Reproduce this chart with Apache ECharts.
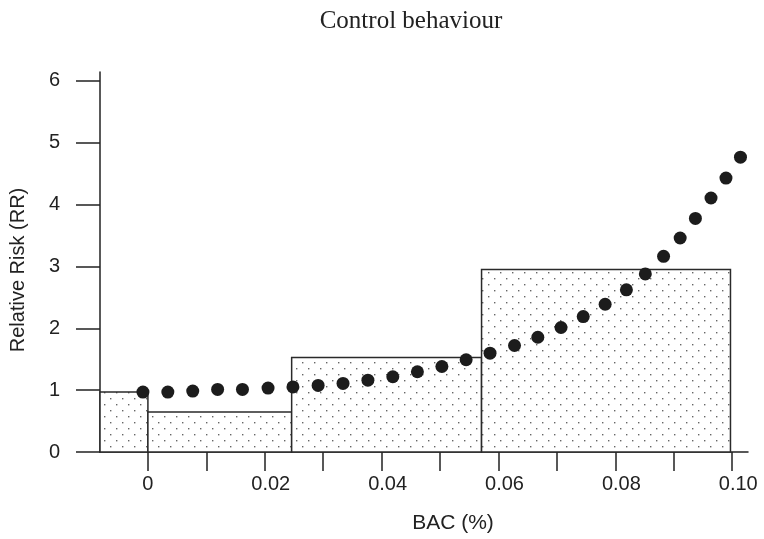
<!DOCTYPE html>
<html>
<head>
<meta charset="utf-8">
<script src="https://cdn.jsdelivr.net/npm/echarts@6/dist/echarts.min.js"></script>
<style>
  html, body { margin: 0; padding: 0; background: #fff; }
  #chart { width: 764px; height: 539px; }
</style>
</head>
<body>
<div id="chart"></div>
<script>
// step bars: [from, to, RR]
var barFrom = [-0.0082, 0, 0.0246, 0.0571];
var barTo = [0, 0.0246, 0.0571, 0.0997];
var barRR = [0.97, 0.646, 1.53, 2.95];

// dots along the curve
var dotBAC = [-0.00085, 0.00341, 0.00767, 0.01193, 0.01618, 0.02056, 0.02482, 0.02913,
    0.03339, 0.03765, 0.04191, 0.04612, 0.05031, 0.05446, 0.05855, 0.06274, 0.06673,
    0.0707, 0.0745, 0.07825, 0.08189, 0.08513, 0.08825, 0.09109, 0.0937, 0.09637,
    0.09893, 0.10141];
var dotRR = [0.969, 0.969, 0.985, 1.012, 1.012, 1.033, 1.052, 1.077, 1.109, 1.162,
    1.217, 1.298, 1.383, 1.492, 1.598, 1.722, 1.856, 2.013, 2.19, 2.389, 2.622, 2.88,
    3.164, 3.461, 3.777, 4.107, 4.429, 4.768];

var xTicks = [0, 0.01, 0.02, 0.03, 0.04, 0.05, 0.06, 0.07, 0.08, 0.09, 0.1];
var xLabels = [0, 0.02, 0.04, 0.06, 0.08, 0.1];
var yTicks = [0, 1, 2, 3, 4, 5, 6];

// 点状填充
var pat = document.createElement('canvas');
pat.width = 12;
pat.height = 12;
var ctx = pat.getContext('2d');
ctx.fillStyle = '#fff';
ctx.fillRect(0, 0, 12, 12);
ctx.fillStyle = '#666';
ctx.fillRect(2, 2, 1.4, 1.4);
ctx.fillRect(8, 8, 1.4, 1.4);

var bars = [];
for (var i = 0; i < barFrom.length; i++) {
    bars.push([barFrom[i], barTo[i], barRR[i]]);
}
var dots = [];
for (var j = 0; j < dotBAC.length; j++) {
    dots.push([dotBAC[j], dotRR[j]]);
}

var labelFont = { fontFamily: 'Liberation Sans', fontSize: 20, color: '#222' };

var myChart = echarts.init(document.getElementById('chart'));
var option = {
    animation: false,
    title: {
        text: 'Control behaviour',
        left: 406,
        textAlign: 'center',
        top: 4,
        textStyle: { fontFamily: 'Liberation Serif', fontWeight: 'normal', fontSize: 25, color: '#222' }
    },
    grid: { left: 97, right: 16, top: 72, bottom: 86 },
    xAxis: {
        type: 'value',
        min: -0.0082,
        max: 0.1027,
        name: 'BAC (%)',
        nameLocation: 'middle',
        nameGap: 61,
        nameTextStyle: { fontFamily: 'Liberation Sans', fontSize: 21, color: '#222', padding: [0, 0, 0, 58] },
        splitLine: { show: false },
        axisLine: { onZero: false, lineStyle: { color: '#222', width: 1.5 } },
        axisTick: { customValues: xTicks, length: 19, lineStyle: { color: '#222', width: 1.5 } },
        axisLabel: {
            customValues: xLabels,
            margin: 22,
            fontFamily: 'Liberation Sans',
            fontSize: 20,
            color: '#222',
            formatter: function (v) { return v === 0 ? '{z|0}' : '{n|' + v.toFixed(2) + '}'; },
            rich: {
                z: labelFont,
                n: { fontFamily: 'Liberation Sans', fontSize: 20, color: '#222', padding: [0, 0, 0, 12] }
            }
        }
    },
    yAxis: {
        type: 'value',
        min: 0,
        max: 6.145,
        name: 'Relative Risk (RR)',
        nameLocation: 'middle',
        nameGap: 72,
        nameTextStyle: { fontFamily: 'Liberation Sans', fontSize: 20, color: '#222', padding: [0, 16, 0, 0] },
        splitLine: { show: false },
        axisLine: { onZero: false, lineStyle: { color: '#222', width: 1.5 } },
        axisTick: { customValues: yTicks, length: 24, lineStyle: { color: '#222', width: 1.5 } },
        axisLabel: {
            customValues: yTicks,
            margin: 40,
            fontFamily: 'Liberation Sans',
            fontSize: 20,
            color: '#222'
        }
    },
    series: [
        {
            type: 'custom',
            z: 2,
            data: bars,
            encode: { x: [0, 1], y: 2 },
            renderItem: function (params, api) {
                var p0 = api.coord([api.value(0), api.value(2)]);
                var p1 = api.coord([api.value(1), 0]);
                return {
                    type: 'rect',
                    shape: { x: p0[0], y: p0[1], width: p1[0] - p0[0], height: p1[1] - p0[1] },
                    style: { fill: { image: pat, repeat: 'repeat' }, stroke: '#2a2a2a', lineWidth: 1.5 }
                };
            }
        },
        {
            type: 'scatter',
            z: 5,
            data: dots,
            symbolSize: 13,
            itemStyle: { color: '#1c1c1c', opacity: 1 }
        }
    ]
};
myChart.setOption(option);
window.addEventListener('resize', function () {
    myChart.resize();
});
</script>
</body>
</html>
